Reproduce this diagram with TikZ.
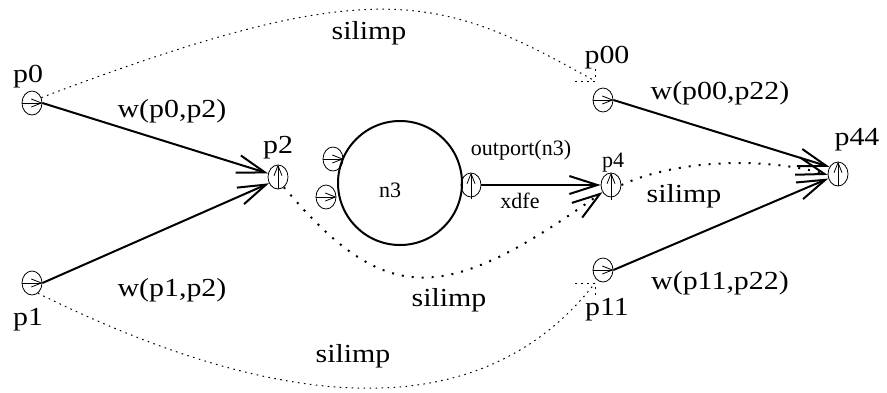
\documentclass[tikz,border=0pt]{standalone}
\usepackage{fontspec}
\setmainfont{Liberation Serif}
\usepackage{graphicx}
\usetikzlibrary{arrows.meta,shapes.geometric,calc}
\newcommand{\wtxt}[1]{\scalebox{1.15}[1]{#1}}
\begin{document}
\begin{tikzpicture}[x=0.5pt,y=-0.5pt,
  port/.style={draw,ellipse,minimum width=10pt,minimum height=12pt,inner sep=0pt,line width=0.4pt},
  lbl/.style={font=\fontsize{13}{15}\selectfont,inner sep=0pt},
  slbl/.style={font=\fontsize{11}{13}\selectfont,inner sep=0pt},
  wire/.style={line width=1pt,-{Straight Barb[length=14pt,width=9pt]}},
  inarrow/.style={line width=0.4pt,-{Straight Barb[length=5pt,width=4pt]}},
  sil/.style={line width=0.5pt,dash pattern=on 0.8pt off 2.2pt},
  silthick/.style={line width=1pt,dash pattern=on 1pt off 4pt,-{Straight Barb[length=14pt,width=9pt]}}]
\useasboundingbox[fill=white] (0,0) rectangle (887,392);

% ports
\node[port] (p0) at (32,103) {};
\node[port] (p1) at (32,283) {};
\node[port] (p2) at (278,177) {};
\node[port] (p00) at (603,100) {};
\node[port] (p11) at (603,270) {};
\node[port] (p4) at (611,185) {};
\node[port] (p44) at (838,174) {};
\node[draw,circle,minimum size=62pt,inner sep=0pt,line width=1pt] (n3) at (400,183) {};
\node[port] (i1) at (333,159) {};
\node[port] (i2) at (326,197) {};
\node[port] (op) at (471,185) {};

% inner arrows
\draw[inarrow] (p0.west) -- (p0.east);
\draw[inarrow] (p1.west) -- (p1.east);
\draw[inarrow] (p00.west) -- (p00.east);
\draw[inarrow] (p11.west) -- (p11.east);
\draw[inarrow] (i1.west) -- (i1.east);
\draw[inarrow] (i2.west) -- (i2.east);
\draw[inarrow] (p2.south) -- (p2.north);
\draw[inarrow] ($(p4.south)+(0,3)$) -- (p4.north);
\draw[inarrow] ($(op.south)+(0,2)$) -- (op.north);
\draw[inarrow] (p44.south) -- (p44.north);

% solid connectors
\draw[wire] (p0.east) -- (p2.160);
\draw[wire] (p1.east) -- (p2.215);
\draw[wire] (op.east) -- (p4.west);
\draw[wire] (p00.east) -- (p44.140);
\draw[wire] (p11.east) -- (p44.205);

% thick dotted connectors
\draw[silthick] (p2.-60) .. controls (387,309) and (445,304) .. (p4.220);
\draw[silthick] (p4.east) .. controls (680,158) and (770,158) .. (p44.185);

% thin dotted connectors with dotted heads
\coordinate (t00) at (595,81);
\coordinate (t11) at (595,283);
\draw[sil] (p0.30) .. controls (378,-30) and (440,-5) .. (t00);
\draw[sil] ($(t00)+(-20,0)$) -- (t00) -- ($(t00)+(0,-12)$);
\draw[sil] (p1.-60) .. controls (250,398) and (470,444) .. (t11);
\draw[sil] ($(t11)+(-20,0)$) -- (t11) -- ($(t11)+(0,12)$);

% labels
\node[lbl] (lp0) at (28,77) {\wtxt{p0}};
\node[lbl] (lp1) at (28,320) {\wtxt{p1}};
\node[lbl] (lp2) at (278,148) {\wtxt{p2}};
\node[lbl] (lp00) at (607,58) {\wtxt{p00}};
\node[lbl] (lp11) at (607,310) {\wtxt{p11}};
\node[lbl] (lp44) at (857,140) {\wtxt{p44}};
\node[slbl] (lp4) at (613,163) {p4};
\node[slbl] (ln3) at (390,190) {n3};
\node[slbl] (lout) at (521,150) {outport(n3)};
\node[slbl] (lxd) at (520,201) {xdfe};
\node[lbl] (w02) at (172,111) {\wtxt{w(p0,p2)}};
\node[lbl] (w12) at (172,290) {\wtxt{w(p1,p2)}};
\node[lbl] (w0022) at (720,93) {\wtxt{w(p00,p22)}};
\node[lbl] (w1122) at (720,283) {\wtxt{w(p11,p22)}};
\node[lbl] (s1) at (369,33) {\wtxt{silimp}};
\node[lbl] (s2) at (449,300) {\wtxt{silimp}};
\node[lbl] (s3) at (684,196) {\wtxt{silimp}};
\node[lbl] (s4) at (353,356) {\wtxt{silimp}};
\end{tikzpicture}
\end{document}
